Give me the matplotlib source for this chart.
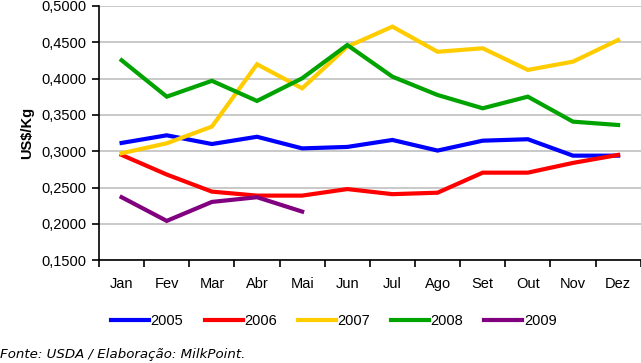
import numpy as np
import matplotlib
matplotlib.use("Agg")
import matplotlib.pyplot as plt
from matplotlib.ticker import FuncFormatter, FixedLocator

months = ["Jan", "Fev", "Mar", "Abr", "Mai", "Jun", "Jul", "Ago", "Set", "Out", "Nov", "Dez"]
v2005 = [0.3115, 0.3220, 0.3100, 0.3200, 0.3040, 0.3060, 0.3156, 0.3010, 0.3146, 0.3166, 0.2940, 0.2940]
v2006 = [0.2950, 0.2680, 0.2445, 0.2390, 0.2390, 0.2480, 0.2410, 0.2430, 0.2706, 0.2706, 0.2840, 0.2950]
v2007 = [0.2973, 0.3110, 0.3340, 0.4198, 0.3867, 0.4440, 0.4716, 0.4370, 0.4418, 0.4120, 0.4234, 0.4532]
v2008 = [0.4253, 0.3752, 0.3970, 0.3693, 0.4005, 0.4463, 0.4027, 0.3775, 0.3592, 0.3752, 0.3408, 0.3362]
v2009 = [0.2368, 0.2042, 0.2303, 0.2368, 0.2170]
years = ["2005", "2006", "2007", "2008", "2009"]
colors = ["#0000FF", "#FF0000", "#FFCC00", "#00A300", "#800080"]

plt.rcParams['font.family'] = ['Liberation Sans', 'DejaVu Sans']

fig = plt.figure(figsize=(6.41, 3.63), dpi=100)
ax = fig.add_axes([0.1545, 0.283, 0.845, 0.7005])

x = np.arange(len(months))
for vals, yr, c in zip([v2005, v2006, v2007, v2008, v2009], years, colors):
    ax.plot(x[:len(vals)], vals, color=c, lw=3, label=yr, solid_joinstyle='miter')

ax.set_xlim(-0.5, 11.5)
ax.set_ylim(0.15, 0.5)
ax.set_yticks(np.arange(0.15, 0.5001, 0.05))
ax.yaxis.set_major_formatter(FuncFormatter(lambda v, p: f"{v:.4f}".replace(".", ",")))
ax.yaxis.grid(True, color="#C0C0C0", lw=1.2)
ax.set_axisbelow(True)

ax.set_xticks(x)
ax.set_xticklabels(months)
ax.xaxis.set_minor_locator(FixedLocator(np.arange(-0.5, 12, 1)))
ax.tick_params(axis='x', which='major', length=0, pad=12, labelsize=10.5)
ax.tick_params(axis='x', which='minor', length=5, width=1.2, direction='out')
ax.tick_params(axis='y', length=5, width=1.2, direction='out', labelsize=10.5, pad=4)

for s in ["top", "right"]:
    ax.spines[s].set_visible(False)
for s in ["left", "bottom"]:
    ax.spines[s].set_linewidth(1.2)

ax.set_ylabel("US$/Kg", fontsize=10.5, fontweight='bold', labelpad=5)

ax.legend(loc='upper left', bbox_to_anchor=(0.012, -0.19), ncol=5, frameon=False,
          fontsize=10.5, handlelength=2.6, handletextpad=0.1, columnspacing=1.45,
          borderaxespad=0)

fig.text(0.0, 0.005, "Fonte: USDA / Elaboração: MilkPoint.", fontsize=9.6,
         style='italic', family='DejaVu Sans', ha='left', va='bottom')

fig.savefig("out.png", dpi=100)
